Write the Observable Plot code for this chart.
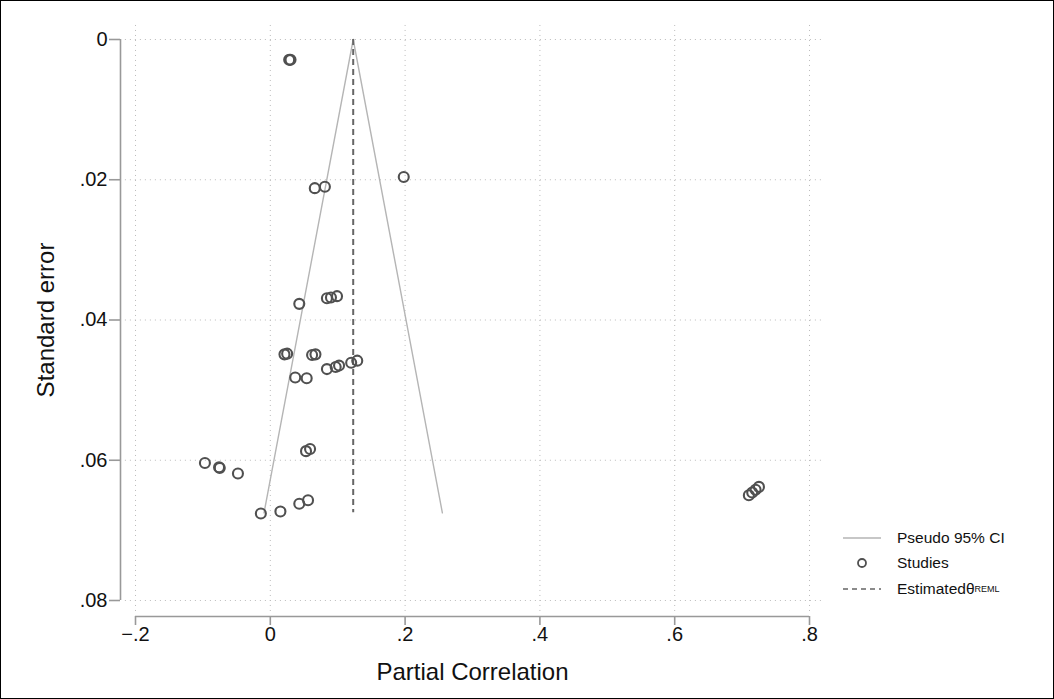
<!DOCTYPE html>
<html>
<head>
<meta charset="utf-8">
<script src="https://cdn.jsdelivr.net/npm/d3@7"></script>
<script src="https://cdn.jsdelivr.net/npm/@observablehq/plot@0.6"></script>
<style>
  body { margin: 0; background: #fff; }
  #wrap { position: relative; width: 1054px; height: 699px; }
  #wrap > svg { outline: 1px solid #000; outline-offset: -1px; }
  #legend { position: absolute; left: 843px; top: 525px; font-family: "Liberation Sans", Arial, sans-serif; font-size: 15.5px; color: #111; }
  .li { display: flex; align-items: center; height: 25.5px; }
  .sw { width: 38px; margin-right: 16px; display: flex; justify-content: center; align-items: center; }
  .sw svg { display: block; }
  sub { font-size: 9px; vertical-align: -4px; }
</style>
</head>
<body>
<div id="wrap"></div>
<script>
// Study estimates (partial correlation) and their standard errors
const effect = [0.028, 0.030, 0.066, 0.081, 0.198, 0.043, 0.084, 0.090, 0.099,
  0.021, 0.025, 0.062, 0.067, 0.037, 0.054, 0.084, 0.097, 0.102, 0.120, 0.129,
  -0.097, -0.075, -0.076, -0.048, -0.014, 0.015, 0.043, 0.056, 0.053, 0.059,
  0.710, 0.715, 0.720, 0.725];
const stderr = [0.0029, 0.0029, 0.0212, 0.0210, 0.0196, 0.0377, 0.0369, 0.0368, 0.0366,
  0.0449, 0.0448, 0.0450, 0.0449, 0.0482, 0.0483, 0.0470, 0.0467, 0.0465, 0.0461, 0.0458,
  0.0604, 0.0611, 0.0610, 0.0619, 0.0676, 0.0673, 0.0662, 0.0657, 0.0587, 0.0584,
  0.0650, 0.0646, 0.0642, 0.0638];
const thetaREML = 0.123;
const seMax = 0.0675;
const xTicks = [-0.2, 0, 0.2, 0.4, 0.6, 0.8];
const xTickLabels = ["\u2212.2", "0", ".2", ".4", ".6", ".8"];
const yTicks = [0, 0.02, 0.04, 0.06, 0.08];
const yTickLabels = ["0", ".02", ".04", ".06", ".08"];

const studies = effect.map((e, i) => ({x: e, se: stderr[i]}));
const ciLines = [
  [{x: thetaREML, se: 0}, {x: thetaREML - 1.96 * seMax, se: seMax}],
  [{x: thetaREML, se: 0}, {x: thetaREML + 1.96 * seMax, se: seMax}]
];
const font = "Liberation Sans, Arial, sans-serif";

const chart = Plot.plot({
  width: 1054,
  height: 699,
  marginLeft: 135,
  marginRight: 245,
  marginTop: 39,
  marginBottom: 99,
  style: {fontFamily: font, background: "#fff"},
  x: {domain: [-0.2, 0.8]},
  y: {domain: [0, 0.08], reverse: true},
  marks: [
    // gridlines
    Plot.ruleX(xTicks, {x: d => d, y1: () => -0.002, y2: () => 0.0818, stroke: "#bbb", strokeDasharray: "1,4"}),
    Plot.ruleY(yTicks, {y: d => d, x1: () => -0.215, x2: () => 0.82, stroke: "#bbb", strokeDasharray: "1,4"}),
    // axis lines (offset)
    Plot.ruleX([-0.2], {x: d => d, y1: () => 0, y2: () => 0.08, dx: -15, stroke: "#999", strokeWidth: 1.6}),
    Plot.ruleY([0.08], {y: d => d, x1: () => -0.2, x2: () => 0.8, dy: 16, stroke: "#999", strokeWidth: 1.6}),
    Plot.axisY({ticks: yTicks, tickFormat: (d, i) => yTickLabels[i], anchor: "left", dx: -15, tickSize: 11, tickPadding: 2, stroke: "#999", strokeWidth: 1.6, fontSize: 20, color: "#111", label: null}),
    Plot.axisX({ticks: xTicks, tickFormat: (d, i) => xTickLabels[i], anchor: "bottom", dy: 16, tickSize: 9, tickPadding: 1, stroke: "#999", strokeWidth: 1.6, fontSize: 20, color: "#111", label: null}),
    // pseudo CI
    ...ciLines.map(l => Plot.line(l, {x: "x", y: "se", stroke: "#b5b5b5", strokeWidth: 1.4})),
    // estimate
    Plot.ruleX([thetaREML], {x: d => d, y1: () => 0, y2: () => seMax, stroke: "#666", strokeWidth: 2, strokeDasharray: "6,4"}),
    // studies
    Plot.dot(studies, {x: "x", y: "se", r: 5, stroke: "#505050", strokeWidth: 2.1, fill: "none"}),
    // axis titles
    Plot.text(["Standard error"], {frameAnchor: "left", dx: -89, rotate: -90, textAnchor: "middle", lineAnchor: "middle", fontSize: 24, fill: "#111"}),
    Plot.text(["Partial Correlation"], {frameAnchor: "bottom", dy: 72, textAnchor: "middle", lineAnchor: "middle", fontSize: 24, fill: "#111"})
  ]
});

const wrap = document.getElementById("wrap");
wrap.appendChild(chart);
const legend = document.createElement("div");
legend.id = "legend";
legend.innerHTML = `
  <div class="li"><div class="sw"><svg width="38" height="4"><line x1="0" x2="38" y1="2" y2="2" stroke="#b5b5b5" stroke-width="1.4"/></svg></div>Pseudo 95% CI</div>
  <div class="li"><div class="sw"><svg width="14" height="14"><circle cx="7" cy="7" r="4" fill="none" stroke="#505050" stroke-width="1.8"/></svg></div>Studies</div>
  <div class="li"><div class="sw"><svg width="38" height="4"><line x1="0" x2="38" y1="2" y2="2" stroke="#666" stroke-width="1.4" stroke-dasharray="5,4"/></svg></div>Estimated&#952;<sub>REML</sub></div>`;
wrap.appendChild(legend);
</script>
</body>
</html>
